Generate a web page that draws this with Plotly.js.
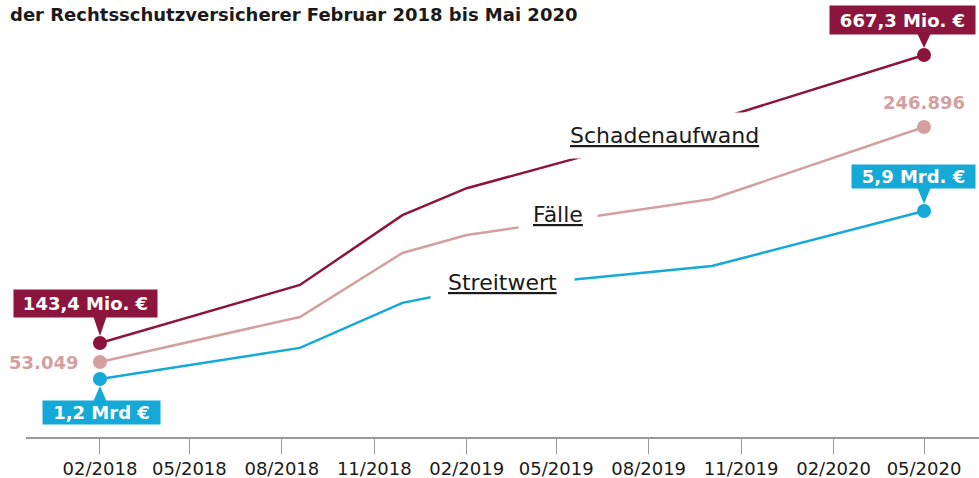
<!DOCTYPE html>
<html><head><meta charset="utf-8">
<script src="https://cdn.plot.ly/plotly-3.0.1.min.js"></script>
<style>html,body{margin:0;padding:0;background:#fff}</style>
</head><body><div id="chart" style="width:979px;height:478px"></div>
<script>
// ---- data ----
const dates = ['2018-02-01','2018-08-19','2018-11-29','2019-02-01','2019-10-03','2020-05-01'];
const schadenaufwand = [143.4, 249, 376, 425, 547, 667.3];   // Mio. €
const faelle = [53049, 90200, 143000, 157800, 187500, 246896]; // Fälle
const streitwert = [1.2, 2.07, 3.33, 3.69, 4.36, 5.9];         // Mrd. €
const tickDates = ['2018-02-01','2018-05-01','2018-08-01','2018-11-01','2019-02-01',
                   '2019-05-01','2019-08-01','2019-11-01','2020-02-01','2020-05-01'];
const tickLabels = ['02/2018','05/2018','08/2018','11/2018','02/2019',
                    '05/2019','08/2019','11/2019','02/2020','05/2020'];
const seriesNames = ['Schadenaufwand','Fälle','Streitwert'];
const startLabels = ['143,4 Mio. €','53.049','1,2 Mrd €'];
const endLabels = ['667,3 Mio. €','246.896','5,9 Mrd. €'];
const titleText = 'der Rechtsschutzversicherer Februar 2018 bis Mai 2020';

// ---- style ----
const RED = '#8c153d', PINK = '#d3a0a0', BLUE = '#14a9d6';
const FONT = 'DejaVu Sans, Verdana, sans-serif';
const last = dates.length - 1;
const ends = arr => [arr[0], arr[last]];
const endDates = ends(dates);

function lineTrace(y, color, axis) {
  return {x: dates, y: y, yaxis: axis, mode: 'lines', type: 'scatter',
          line: {color: color, width: 2.5}, hoverinfo: 'skip'};
}
function dotTrace(y, color, axis) {
  return {x: endDates, y: ends(y), yaxis: axis, mode: 'markers', type: 'scatter',
          marker: {color: color, size: 14}, hoverinfo: 'skip', cliponaxis: false};
}
const traces = [
  lineTrace(streitwert, BLUE, 'y3'), lineTrace(faelle, PINK, 'y2'), lineTrace(schadenaufwand, RED, 'y'),
  dotTrace(streitwert, BLUE, 'y3'), dotTrace(faelle, PINK, 'y2'), dotTrace(schadenaufwand, RED, 'y')
];

// small triangular pointer from a label box towards its dot (pixel offsets, up = positive)
function pointer(x, y, yref, color, dir, base) {
  const b = dir * base, t = dir * 7;
  return {type: 'path', xref: 'x', yref: yref, xsizemode: 'pixel', ysizemode: 'pixel',
          xanchor: x, yanchor: y, layer: 'above',
          path: 'M-6.5,' + b + ' L6.5,' + b + ' L0,' + t + ' Z',
          fillcolor: color, line: {width: 0}};
}
const shapes = [
  pointer(dates[0], schadenaufwand[0], 'y', RED, 1, 26),
  pointer(dates[last], schadenaufwand[last], 'y', RED, 1, 21),
  pointer(dates[0], streitwert[0], 'y3', BLUE, -1, 22),
  pointer(dates[last], streitwert[last], 'y3', BLUE, 1, 23)
];

function box(x, y, yref, text, color, w, h, xshift, yshift, yanchor) {
  return {x: x, y: y, xref: 'x', yref: yref, text: '<b>' + text + '</b>', showarrow: false,
          xanchor: 'center', yanchor: yanchor, xshift: xshift, yshift: yshift,
          bgcolor: color, borderpad: 0, width: w, height: h,
          font: {family: FONT, size: 18, color: '#ffffff'}};
}
function seriesLabel(text, px, py, pad) {
  return {xref: 'paper', yref: 'paper', x: (px - 26) / 953, y: (437 - py) / 437,
          xanchor: 'center', yanchor: 'middle', showarrow: false,
          text: '<u>' + text + '</u>', bgcolor: '#ffffff', borderpad: pad,
          font: {family: FONT, size: 22, color: '#1a1a1a'}};
}

const annotations = [
  box(dates[0], schadenaufwand[0], 'y', startLabels[0], RED, 143, 27, -14.5, 25, 'bottom'),
  box(dates[last], schadenaufwand[last], 'y', endLabels[0], RED, 145, 28, -21.5, 20, 'bottom'),
  box(dates[0], streitwert[0], 'y3', startLabels[2], BLUE, 117, 23, 1.5, -21, 'top'),
  box(dates[last], streitwert[last], 'y3', endLabels[2], BLUE, 123, 23, -10.5, 22, 'bottom'),
  {x: dates[0], y: faelle[0], xref: 'x', yref: 'y2', text: '<b>' + startLabels[1] + '</b>',
   showarrow: false, xanchor: 'right', yanchor: 'middle', xshift: -20,
   font: {family: FONT, size: 18, color: PINK}},
  {x: dates[last], y: faelle[last], xref: 'x', yref: 'y2', text: '<b>' + endLabels[1] + '</b>',
   showarrow: false, xanchor: 'center', yanchor: 'bottom', yshift: 12,
   font: {family: FONT, size: 18, color: PINK}},
  seriesLabel(seriesNames[0], 664, 135.4, 10),
  seriesLabel(seriesNames[1], 558, 214.4, 14),
  seriesLabel(seriesNames[2], 502, 282.4, 17)
];

const hiddenY = r => ({range: r, visible: false, fixedrange: true});
const layout = {
  width: 979, height: 478,
  margin: {l: 26, r: 0, t: 0, b: 41, pad: 0},
  paper_bgcolor: '#ffffff', plot_bgcolor: '#ffffff',
  showlegend: false,
  font: {family: FONT, size: 18, color: '#1a1a1a'},
  title: {text: '<b>' + titleText + '</b>', xref: 'container', yref: 'container',
          x: 10 / 979, xanchor: 'left', y: 1 - 15 / 478, yanchor: 'middle',
          font: {family: FONT, size: 18, color: '#1a1a1a'}},
  xaxis: {type: 'date', range: ['2017-11-19 10:00', '2020-06-24 17:00'],
          tickmode: 'array', tickvals: tickDates, ticktext: tickLabels,
          showgrid: false, zeroline: false, showline: true, linecolor: '#9a9a9a', linewidth: 1.5,
          ticks: 'outside', ticklen: 15, tickwidth: 1, tickcolor: '#9a9a9a',
          tickfont: {family: FONT, size: 18, color: '#1a1a1a'}, fixedrange: true},
  yaxis: hiddenY([-27.6, 767.4]),
  yaxis2: Object.assign(hiddenY([-8817, 351656]), {overlaying: 'y'}),
  yaxis3: Object.assign(hiddenY([-0.4226, 11.803]), {overlaying: 'y'}),
  shapes: shapes,
  annotations: annotations
};
Plotly.newPlot('chart', traces, layout, {displayModeBar: false, staticPlot: true});
</script></body></html>
